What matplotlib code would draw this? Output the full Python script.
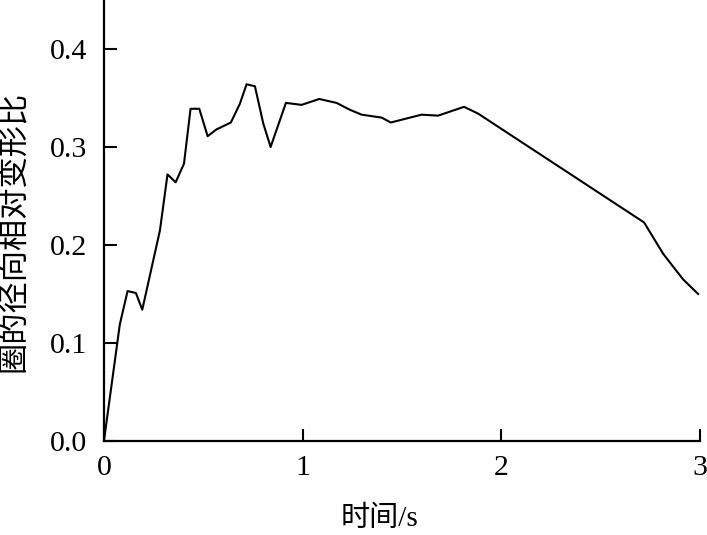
"""
圈的径向相对变形比随时间变化曲线.
"""
import matplotlib
matplotlib.use("Agg")
import matplotlib.pyplot as plt

# 时间 (s)
time_s = [0.0, 0.08, 0.119, 0.161, 0.193, 0.282, 0.32, 0.361, 0.403, 0.436,
          0.48, 0.522, 0.567, 0.639, 0.684, 0.718, 0.76, 0.802, 0.839, 0.916,
          0.995, 1.084, 1.171, 1.238, 1.297, 1.398, 1.444, 1.599, 1.682, 1.813,
          1.884, 2.719, 2.815, 2.865, 2.915, 2.991]
# 径向相对变形比
ratio = [0.0, 0.119, 0.153, 0.151, 0.134, 0.215, 0.272, 0.264, 0.283, 0.339,
         0.339, 0.311, 0.318, 0.325, 0.344, 0.364, 0.362, 0.324, 0.300, 0.345,
         0.343, 0.349, 0.345, 0.338, 0.333, 0.330, 0.325, 0.333, 0.332, 0.341,
         0.334, 0.223, 0.191, 0.178, 0.165, 0.150]

x_ticks = [0, 1, 2, 3]
y_ticks = [0.0, 0.1, 0.2, 0.3, 0.4]

plt.rcParams['font.family'] = ['Liberation Serif', 'Noto Sans CJK SC']

fig = plt.figure(figsize=(7.07, 5.35), dpi=100)
ax = fig.add_axes([0.147, 0.1757, 0.843, 0.8243])

ax.plot(time_s, ratio, color='black', linewidth=1.5)

ax.set_xlim(0, 3)
ax.set_ylim(0, 0.45)
ax.set_xticks(x_ticks)
ax.set_xticklabels([str(t) for t in x_ticks])
ax.set_yticks(y_ticks)
ax.set_yticklabels([f"{v:.1f}" for v in y_ticks])

ax.spines['top'].set_visible(False)
ax.spines['right'].set_visible(False)
for side in ('left', 'bottom'):
    ax.spines[side].set_linewidth(1.6)

ax.tick_params(direction='in', length=9, width=1.5, labelsize=21.5)
ax.tick_params(axis='x', pad=10)
ax.tick_params(axis='y', pad=12)

ax.set_xlabel('时间/s', fontsize=21)
ax.set_ylabel('圈的径向相对变形比', fontsize=22.5)
ax.xaxis.set_label_coords(0.463, -0.147)
ax.yaxis.set_label_coords(-0.124, 0.476)

fig.savefig('out.png', dpi=100)
plt.close(fig)
